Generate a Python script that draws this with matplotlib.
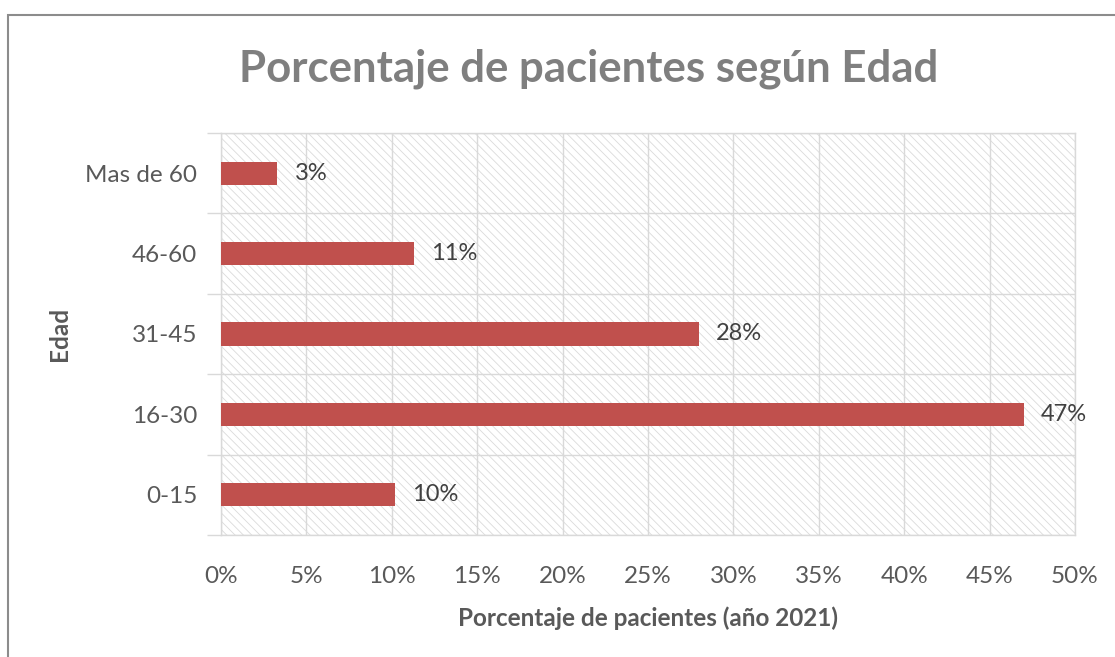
import matplotlib.pyplot as plt
from matplotlib.patches import Rectangle
from matplotlib.ticker import FixedLocator, PercentFormatter

# ── Datos ─────────────────────────────────────
categorias = ['0-15', '16-30', '31-45', '46-60', 'Mas de 60']
porcentajes = [10.2, 47.0, 28.0, 11.3, 3.3]
xticks = list(range(0, 51, 5))

plt.rcParams['font.family'] = ['Lato', 'DejaVu Sans']
plt.rcParams['hatch.linewidth'] = 0.6

fig = plt.figure(figsize=(11.15, 6.57), dpi=100)
ax = fig.add_axes([0.1982, 0.1857, 0.7659, 0.6119])

# borde del gráfico (estilo Excel)
fig.add_artist(Rectangle((8 / 1115, -0.01), 1.1, 1 - 15 / 657 + 0.01,
                         transform=fig.transFigure, fill=False,
                         edgecolor='#8C8C8C', linewidth=1.5))

# fondo rayado del área de trazado
ax.set_facecolor('white')
ax.add_patch(Rectangle((0, 0), 1, 1, transform=ax.transAxes,
                       facecolor='white', edgecolor='#DADADA',
                       hatch='\\\\\\\\', linewidth=0, zorder=0))

y = range(len(categorias))
ax.barh(y, porcentajes, height=0.29, color='#C0504D', zorder=3)

for yi, v in zip(y, porcentajes):
    ax.text(v + 1.0, yi, f'{v:.0f}%', va='center', ha='left',
            fontsize=17, color='#404040', zorder=4)

ax.set_xlim(0, 50)
ax.set_ylim(-0.5, len(categorias) - 0.5)
ax.set_xticks(xticks)
ax.xaxis.set_major_formatter(PercentFormatter(decimals=0))
ax.set_yticks(list(y))
ax.set_yticklabels(categorias)
ax.yaxis.set_minor_locator(FixedLocator([i - 0.5 for i in range(len(categorias) + 1)]))

ax.grid(axis='x', color='#D9D9D9', linewidth=1.0, zorder=1)
ax.grid(axis='y', which='minor', color='#D9D9D9', linewidth=1.0, zorder=1)
ax.set_axisbelow(True)

ax.tick_params(axis='x', length=0, pad=22, labelsize=17.5, labelcolor='#595959')
ax.tick_params(axis='y', which='major', length=0, pad=17, labelsize=17.5,
               labelcolor='#595959')
ax.tick_params(axis='y', which='minor', length=10, color='#D9D9D9', width=1)

for s in ax.spines.values():
    s.set_color('#D9D9D9')
    s.set_linewidth(1.0)

ax.set_xlabel('Porcentaje de pacientes (año 2021)', fontsize=17.5,
              fontweight='bold', color='#595959', labelpad=14)
ax.set_ylabel('Edad', fontsize=17.5, fontweight='bold', color='#595959',
              labelpad=10)

fig.text(0.528, 0.895, 'Porcentaje de pacientes según Edad', ha='center',
         va='center', fontsize=31.5, fontweight='bold', color='#7F7F7F')

fig.savefig('out.png', dpi=100)
